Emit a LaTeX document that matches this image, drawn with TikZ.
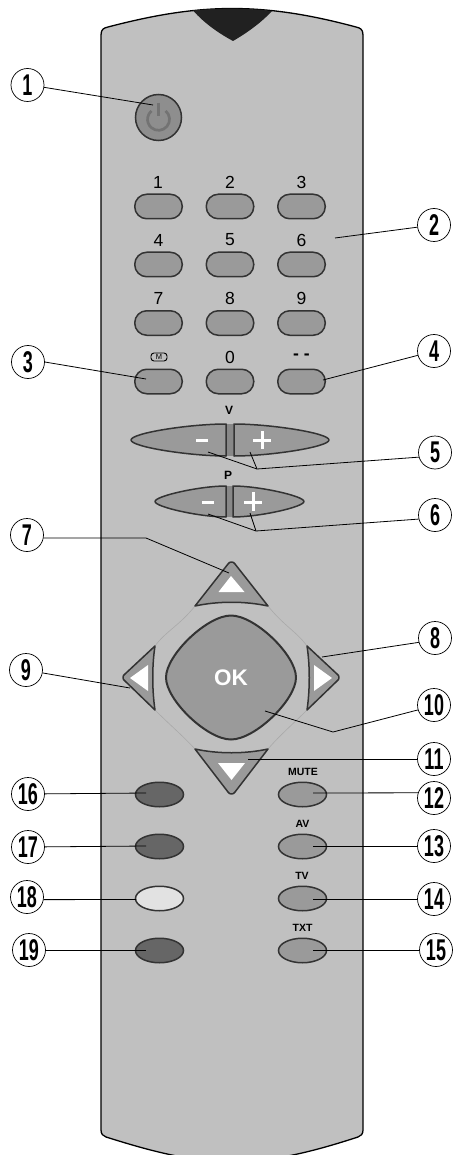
\documentclass[tikz,border=0pt]{standalone}
\usepackage{fontspec}
\usetikzlibrary{shapes.geometric}
\setmainfont{Liberation Sans}
\newfontfamily\condfont[FakeStretch=0.6]{Liberation Sans Bold}
\definecolor{bodygrey}{HTML}{C0C0C0}
\definecolor{keygrey}{HTML}{9A9A9A}
\definecolor{edgegrey}{HTML}{333333}
\definecolor{darkkey}{HTML}{666666}
\definecolor{lightkey}{HTML}{E2E2E2}
\definecolor{faint}{HTML}{A9A9A9}
\tikzset{
  callout/.style={circle,draw=black,line width=0.7pt,fill=white,minimum size=33pt,inner sep=0pt,font=\condfont\fontsize{30}{30}\selectfont},
  leader/.style={draw=black,line width=0.8pt},
  numkey/.style={draw=edgegrey,line width=1.5pt,fill=keygrey,rounded corners=12pt,minimum width=47.5pt,minimum height=24.5pt,inner sep=0pt},
  ovalkey/.style={ellipse,draw=edgegrey,line width=1.5pt,minimum width=48pt,minimum height=24.5pt,inner sep=0pt},
  keytext/.style={font=\fontsize{17.5}{18}\selectfont,inner sep=0pt},
  smalltext/.style={font=\bfseries\fontsize{10.5}{11}\selectfont,inner sep=0pt},
  padkey/.style={draw=edgegrey,line width=1.5pt,fill=keygrey,line join=round},
  whitesign/.style={fill=white,draw=none},
  faintline/.style={draw=faint,line width=0.6pt}
}
\begin{document}
\begin{tikzpicture}[x=1pt,y=-1pt]
\useasboundingbox (0,0) rectangle (454,1155);
\fill[white] (0,0) rectangle (454,1155);
\begin{scope}
\clip (0,0) rectangle (454,1155);
% body
\draw[fill=bodygrey,draw=black,line width=1.3pt] (101,35) .. controls (101,29) and (104,28) .. (108,27) .. controls (150,16) and (190,8.5) .. (232,8.5) .. controls (275,8.5) and (315,16) .. (356,27) .. controls (360,28) and (363,29) .. (363,35) -- (363,1130) .. controls (363,1134) and (361,1136) .. (358,1137) .. controls (330,1146) and (280,1162) .. (232,1162) .. controls (185,1162) and (135,1146) .. (106,1137) .. controls (103,1136) and (101,1134) .. (101,1130) -- cycle;
\end{scope}
% notch
\fill[fill=black!87] (193,10.5) .. controls (215,8) and (250,8) .. (272,11) .. controls (260,24) and (245,34) .. (233,41) .. controls (220,34) and (205,24) .. (193,10.5) -- cycle;
% power
\node[circle,draw=edgegrey,line width=1.5pt,fill=keygrey!92!black,minimum size=46pt,inner sep=0pt] (power) at (158.5,117.5) {};
\draw[draw=black!55,line width=2.7pt] (165.6,110.9) arc[start angle=-50,end angle=230,radius=11];
\draw[draw=black!55,line width=2.2pt] (158.5,103) -- (158.5,116);
% numeric keys
\node[numkey] (k1) at (158.5,206.5) {};
\node[numkey] (k2) at (230,206.5) {};
\node[numkey] (k3) at (301.5,206.5) {};
\node[numkey] (k4) at (158.5,264.5) {};
\node[numkey] (k5) at (230,264.5) {};
\node[numkey] (k6) at (301.5,264.5) {};
\node[numkey] (k7) at (158.5,323) {};
\node[numkey] (k8) at (230,323) {};
\node[numkey] (k9) at (301.5,323) {};
\node[numkey] (kM) at (158.5,381.5) {};
\node[numkey] (k0) at (230,381.5) {};
\node[numkey] (kD) at (301.5,381.5) {};
\node[keytext] (l1) at (158,182) {1};
\node[keytext] (l2) at (230,182) {2};
\node[keytext] (l3) at (301.5,182) {3};
\node[keytext] (l4) at (158.5,240) {4};
\node[keytext] (l5) at (230,240) {5};
\node[keytext] (l6) at (301.5,240) {6};
\node[keytext] (l7) at (158.5,298.5) {7};
\node[keytext] (l8) at (230,298.5) {8};
\node[keytext] (l9) at (301.5,298.5) {9};
\node[keytext] (l0) at (230,357) {0};
\node[keytext,font=\bfseries\fontsize{17.5}{18}\selectfont] (lD) at (301.5,357) {- -};
\node[draw=black,line width=0.9pt,rounded corners=3pt,minimum width=16pt,minimum height=8pt,inner sep=0pt,font=\fontsize{7.5}{8}\selectfont] (lM) at (159,357) {M};
% V rocker
\fill[fill=keygrey!88!black] (226,424) rectangle (234,456);
\draw[padkey] (226,424) .. controls (190,424) and (131,433) .. (131,440) .. controls (131,447) and (190,456) .. (226,456) -- cycle;
\draw[padkey] (234,424) .. controls (270,424) and (329,433) .. (329,440) .. controls (329,447) and (270,456) .. (234,456) -- cycle;
\fill[whitesign] (196,438.5) rectangle (208,441.5);
\fill[whitesign] (253,438.5) rectangle (271,441.5);
\fill[whitesign] (260.5,431) rectangle (263.5,449);
\node[smalltext,font=\bfseries\fontsize{12}{12}\selectfont] (lV) at (229,410) {V};
% P rocker
\fill[fill=keygrey!88!black] (226,486) rectangle (233,517);
\draw[padkey] (226,486) .. controls (200,486) and (155,496) .. (155,501.5) .. controls (155,507) and (200,517) .. (226,517) -- cycle;
\draw[padkey] (233,486) .. controls (259,486) and (304,496) .. (304,501.5) .. controls (304,507) and (259,517) .. (233,517) -- cycle;
\fill[whitesign] (202,500.5) rectangle (214,503.5);
\fill[whitesign] (244,500.5) rectangle (262,503.5);
\fill[whitesign] (251.5,492) rectangle (254.5,511);
\node[smalltext,font=\bfseries\fontsize{12}{12}\selectfont] (lP) at (228,475) {P};
% faint ring
\draw[faintline] (195,606) .. controls (180,625) and (165,632) .. (155,646);
\draw[faintline] (268,606) .. controls (283,625) and (297,632) .. (307,646);
\draw[faintline] (155,710) .. controls (170,725) and (182,735) .. (195,749);
\draw[faintline] (307,710) .. controls (292,725) and (280,735) .. (268,749);
% direction keys
\draw[padkey] (231.5,562) .. controls (233,562) and (234,562.5) .. (235,564) -- (268,606) .. controls (245,601) and (218,601) .. (195,606) -- (228,564) .. controls (229,562.5) and (230,562) .. (231.5,562) -- cycle;
\fill[whitesign] (231,576) -- (244.5,592) -- (218.5,592) -- cycle;
\draw[padkey] (231.5,794) .. controls (233,794) and (234,793.5) .. (235,792) -- (268,749) .. controls (245,754) and (218,754) .. (195,749) -- (228,792) .. controls (229,793.5) and (230,794) .. (231.5,794) -- cycle;
\fill[whitesign] (231.5,780) -- (245,763) -- (218,763) -- cycle;
\draw[padkey] (123,677.5) .. controls (123,676) and (123.5,675) .. (125,674) -- (155,646) .. controls (152,665) and (152,690) .. (155,710) -- (125,681) .. controls (123.5,680) and (123,679) .. (123,677.5) -- cycle;
\fill[whitesign] (130,678) -- (148,665) -- (148,691) -- cycle;
\draw[padkey] (339,677.5) .. controls (339,676) and (338.5,675) .. (337,674) -- (307,646) .. controls (310,665) and (310,690) .. (307,710) -- (337,681) .. controls (338.5,680) and (339,679) .. (339,677.5) -- cycle;
\fill[whitesign] (332,678) -- (314,665) -- (314,691) -- cycle;
% OK
\draw[padkey,line width=2pt] (231,615.5) .. controls (255,615.5) and (296,655) .. (296,677.5) .. controls (296,700) and (255,739.5) .. (231,739.5) .. controls (207,739.5) and (166,700) .. (166,677.5) .. controls (166,655) and (207,615.5) .. (231,615.5) -- cycle;
\node[font=\bfseries\fontsize{22.5}{23}\selectfont,text=white,inner sep=0pt] (ok) at (231,677.5) {OK};
% lower keys
\node[ovalkey,fill=darkkey] (k16) at (159.5,794.5) {};
\node[ovalkey,fill=darkkey] (k17) at (159.5,846.5) {};
\node[ovalkey,fill=lightkey] (k18) at (159.5,898.5) {};
\node[ovalkey,fill=darkkey] (k19) at (159.5,950.5) {};
\node[ovalkey,fill=keygrey] (k12) at (302.5,794.5) {};
\node[ovalkey,fill=keygrey] (k13) at (302.5,846.5) {};
\node[ovalkey,fill=keygrey] (k14) at (302.5,898.5) {};
\node[ovalkey,fill=keygrey] (k15) at (302.5,950.5) {};
\node[smalltext] (lMute) at (303,772) {MUTE};
\node[smalltext] (lAV) at (302.5,824) {AV};
\node[smalltext] (lTV) at (302,876) {TV};
\node[smalltext] (lTXT) at (302.5,928) {TXT};
% callouts
\node[callout] (c1) at (27.5,85) {1};
\node[callout] (c2) at (434,225) {2};
\node[callout] (c3) at (28,362) {3};
\node[callout] (c4) at (434,351) {4};
\node[callout] (c5) at (435,452.5) {5};
\node[callout] (c6) at (435,515) {6};
\node[callout] (c7) at (27,535) {7};
\node[callout] (c8) at (435,638) {8};
\node[callout] (c9) at (26,670) {9};
\node[callout] (c10) at (434,705) {10};
\node[callout] (c11) at (434,759) {11};
\node[callout] (c12) at (434,798) {12};
\node[callout] (c13) at (434,846) {13};
\node[callout] (c14) at (434,899) {14};
\node[callout] (c15) at (436,950) {15};
\node[callout] (c16) at (28,794) {16};
\node[callout] (c17) at (28,847) {17};
\node[callout] (c18) at (27,897) {18};
\node[callout] (c19) at (29,950) {19};
% leader anchors
\coordinate (t1) at (153,105);
\coordinate (t2) at (335,238);
\coordinate (t3) at (146,379);
\coordinate (t4) at (323,380);
\coordinate (j5) at (257,469);
\coordinate (a5) at (208,452);
\coordinate (b5) at (250,452);
\coordinate (j6) at (256,531);
\coordinate (a6) at (208,514);
\coordinate (b6) at (250,513);
\coordinate (e7) at (146,538);
\coordinate (t7) at (229,573);
\coordinate (t8) at (322,657);
\coordinate (t9) at (130,688);
\coordinate (e10) at (333,732);
\coordinate (t10) at (265,711);
\coordinate (t11) at (248,759);
\coordinate (t12) at (313,793);
\coordinate (t13) at (313,846);
\coordinate (t14) at (313,899);
\coordinate (t15) at (313,950);
\coordinate (t16) at (146,793);
\coordinate (t17) at (146,846);
\coordinate (t18) at (136,899.5);
\coordinate (t19) at (146,950);
\draw[leader] (c1.-8) -- (t1);
\draw[leader] (c2) -- (t2);
\draw[leader] (c3.east) -- (t3);
\draw[leader] (c4.195) -- (t4);
\draw[leader] (c5.196) -- (j5) -- (a5);
\draw[leader] (j5) -- (b5);
\draw[leader] (c6.194) -- (j6) -- (a6);
\draw[leader] (j6) -- (b6);
\draw[leader] (c7.-10) -- (e7) -- (t7);
\draw[leader] (c8.195) -- (t8);
\draw[leader] (c9.-10) -- (t9);
\draw[leader] (c10.197) -- (e10) -- (t10);
\draw[leader] (c11) -- (t11);
\draw[leader] (c12.162) -- (t12);
\draw[leader] (c13) -- (t13);
\draw[leader] (c14) -- (t14);
\draw[leader] (c15) -- (t15);
\draw[leader] (c16) -- (t16);
\draw[leader] (c17) -- (t17);
\draw[leader] (c18.-9) -- (t18);
\draw[leader] (c19) -- (t19);
\end{tikzpicture}
\end{document}
